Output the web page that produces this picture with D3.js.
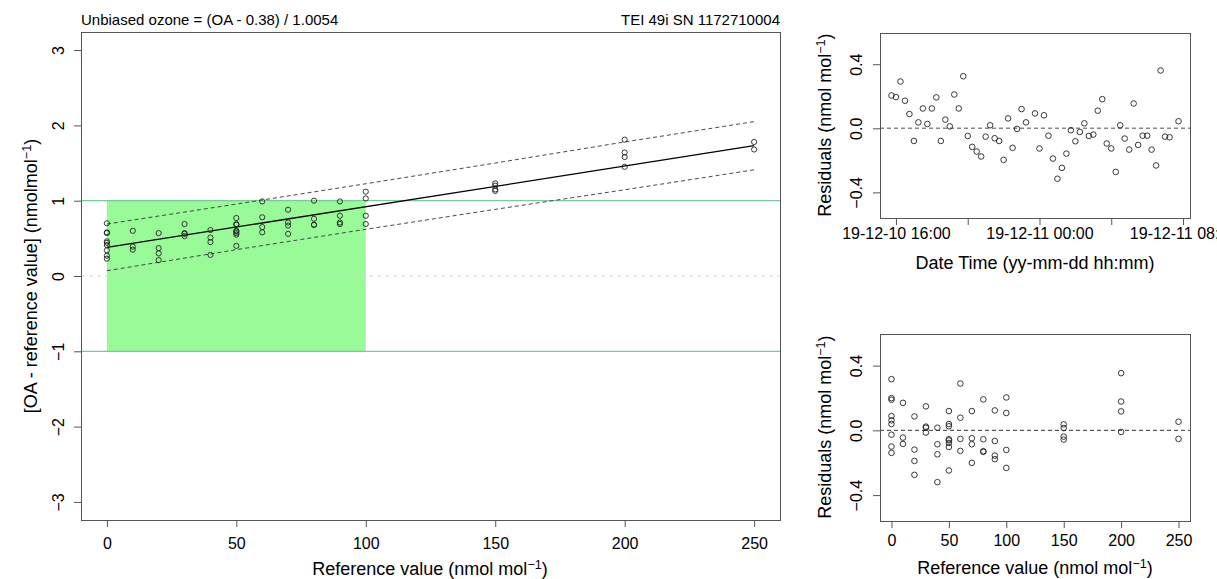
<!DOCTYPE html>
<html>
<head>
<meta charset="utf-8">
<style>
  body { margin: 0; background: #fff; }
  svg { font-family: "Liberation Sans", Arial, sans-serif; }
  .axis .domain { display: none; }
  .axis line { stroke: #555; }
  .axis text { fill: #000; font-size: 16px; }
</style>
</head>
<body>
<svg width="1217" height="579"></svg>
<script src="https://d3js.org/d3.v7.min.js"></script>
<script>

// reference values and [OA - reference] for each calibration point
var refValues = [0, 0, 0, 0, 0, 0, 0, 0, 0, 10, 10, 10, 20, 20, 20, 20, 30, 30, 30, 30,
  40, 40, 40, 40, 50, 50, 50, 50, 50, 50, 50, 50, 60, 60, 60, 60, 70, 70, 70, 70,
  80, 80, 80, 80, 90, 90, 90, 90, 100, 100, 100, 100, 150, 150, 150, 150,
  200, 200, 200, 200, 250, 250];

var diffValues = [0.70, 0.58, 0.57, 0.46, 0.44, 0.41, 0.34, 0.27, 0.23, 0.60, 0.39, 0.35,
  0.57, 0.37, 0.30, 0.21, 0.69, 0.57, 0.56, 0.53, 0.61, 0.51, 0.45, 0.28,
  0.77, 0.69, 0.68, 0.60, 0.59, 0.57, 0.55, 0.40, 0.99, 0.78, 0.65, 0.58,
  0.88, 0.71, 0.67, 0.56, 1.00, 0.76, 0.68, 0.68, 0.99, 0.80, 0.71, 0.69,
  1.12, 1.03, 0.80, 0.69, 1.23, 1.20, 1.15, 1.13, 1.81, 1.64, 1.58, 1.45, 1.78, 1.68];

// residuals, same order as refValues
var residuals = [0.316, 0.199, 0.189, 0.088, 0.062, 0.039, -0.027, -0.100, -0.139,
  0.170, -0.045, -0.084, 0.086, -0.119, -0.189, -0.275, 0.148, 0.023, 0.016, -0.014,
  0.016, -0.086, -0.148, -0.320, 0.119, 0.039, 0.025, -0.055, -0.062, -0.078, -0.103, -0.248,
  0.289, 0.078, -0.053, -0.127, 0.119, -0.049, -0.086, -0.201, 0.191, -0.055, -0.129, -0.133,
  0.123, -0.066, -0.156, -0.178, 0.203, 0.107, -0.121, -0.232, 0.037, 0.014, -0.039, -0.057,
  0.353, 0.178, 0.117, -0.010, 0.053, -0.053];

// regression line and prediction band
var lineRef = [0, 250];
var lineFit = [0.38, 1.73];
var bandRef = [0, 50, 100, 150, 200, 250];
var bandUpper = [0.69, 0.955, 1.225, 1.50, 1.78, 2.05];
var bandLower = [0.07, 0.35, 0.62, 0.885, 1.145, 1.41];

// residuals over time
var times = ["2019-12-10 15:45", "2019-12-10 16:00", "2019-12-10 16:15", "2019-12-10 16:30",
  "2019-12-10 16:45", "2019-12-10 17:00", "2019-12-10 17:15", "2019-12-10 17:30",
  "2019-12-10 17:45", "2019-12-10 18:00", "2019-12-10 18:15", "2019-12-10 18:30",
  "2019-12-10 18:45", "2019-12-10 19:00", "2019-12-10 19:15", "2019-12-10 19:30",
  "2019-12-10 19:45", "2019-12-10 20:00", "2019-12-10 20:15", "2019-12-10 20:30",
  "2019-12-10 20:45", "2019-12-10 21:00", "2019-12-10 21:15", "2019-12-10 21:30",
  "2019-12-10 21:45", "2019-12-10 22:00", "2019-12-10 22:15", "2019-12-10 22:30",
  "2019-12-10 22:45", "2019-12-10 23:00", "2019-12-10 23:15", "2019-12-10 23:45",
  "2019-12-11 00:00", "2019-12-11 00:15", "2019-12-11 00:30", "2019-12-11 00:45",
  "2019-12-11 01:00", "2019-12-11 01:15", "2019-12-11 01:30", "2019-12-11 01:45",
  "2019-12-11 02:00", "2019-12-11 02:15", "2019-12-11 02:30", "2019-12-11 02:45",
  "2019-12-11 03:00", "2019-12-11 03:15", "2019-12-11 03:30", "2019-12-11 03:45",
  "2019-12-11 04:00", "2019-12-11 04:15", "2019-12-11 04:30", "2019-12-11 04:45",
  "2019-12-11 05:00", "2019-12-11 05:15", "2019-12-11 05:30", "2019-12-11 05:45",
  "2019-12-11 06:00", "2019-12-11 06:15", "2019-12-11 06:30", "2019-12-11 06:45",
  "2019-12-11 07:00", "2019-12-11 07:15", "2019-12-11 07:45"];

var timeResiduals = [0.205, 0.195, 0.292, 0.172, 0.089, -0.079, 0.037, 0.124, 0.027, 0.124,
  0.193, -0.079, 0.054, 0.012, 0.211, 0.124, 0.325, -0.048, -0.116, -0.145, -0.176, -0.052,
  0.019, -0.062, -0.079, -0.197, 0.062, -0.122, -0.004, 0.120, 0.037, 0.093, -0.126, 0.081,
  -0.046, -0.189, -0.315, -0.247, -0.158, -0.012, -0.081, -0.023, 0.031, -0.048, -0.039,
  0.110, 0.182, -0.095, -0.126, -0.272, 0.019, -0.064, -0.133, 0.155, -0.104, -0.046,
  -0.046, -0.133, -0.232, 0.361, -0.052, -0.056, 0.044];

var mainYTicks = [-3, -2, -1, 0, 1, 2, 3];
var refTicks = [0, 50, 100, 150, 200, 250];
var residTicks = [-0.4, 0, 0.4];

var svg = d3.select("svg");
var parseTime = d3.timeParse("%Y-%m-%d %H:%M");
var fmtTime = d3.timeFormat("%y-%m-%d %H:%M");

// add a text with a "-1" superscript before the closing bracket
function supLabel(sel, before, after) {
  sel.append("tspan").text(before);
  sel.append("tspan").attr("dy", "-0.5em").attr("font-size", "0.7em").text("\u22121");
  sel.append("tspan").attr("dy", "0.35em").text(after);
}

function drawBox(x0, x1, y0, y1) {
  svg.append("rect")
    .attr("x", x0 + 0.5).attr("y", y0 + 0.5)
    .attr("width", x1 - x0).attr("height", y1 - y0)
    .attr("fill", "none").attr("stroke", "#555");
}

function leftAxis(scale, xPos, ticks, fmt, off) {
  var ax = svg.append("g").attr("class", "axis")
    .attr("transform", "translate(" + xPos + ",0)")
    .call(d3.axisLeft(scale).tickValues(ticks).tickSize(7).tickFormat(fmt));
  ax.selectAll("text")
    .attr("x", 0).attr("y", -off).attr("dy", null)
    .attr("transform", "rotate(-90)")
    .style("text-anchor", "middle");
}

function bottomAxis(scale, yPos, ticks, fmt, off) {
  var ax = svg.append("g").attr("class", "axis")
    .attr("transform", "translate(0," + yPos + ")")
    .call(d3.axisBottom(scale).tickValues(ticks).tickSize(7).tickFormat(fmt));
  ax.selectAll("text").attr("y", off).attr("dy", null);
}

function drawPoints(xs, ys, fx, fy, r) {
  svg.append("g").selectAll("circle")
    .data(xs)
    .enter().append("circle")
    .attr("cx", function(d) { return fx(d); })
    .attr("cy", function(d, i) { return fy(ys[i]); })
    .attr("r", r)
    .attr("fill", "none")
    .attr("stroke", "#222")
    .attr("stroke-width", 0.9);
}

// ---------- main plot ----------
var x = d3.scaleLinear().domain([-10, 260]).range([81, 780]);
var y = d3.scaleLinear().domain([-3.24, 3.24]).range([520, 32]);

svg.append("rect")
  .attr("x", x(0)).attr("y", y(1))
  .attr("width", x(100) - x(0)).attr("height", y(-1) - y(1))
  .attr("fill", "#98fb98");

[1, -1].forEach(function(v) {
  svg.append("line")
    .attr("x1", x(-10)).attr("x2", x(260))
    .attr("y1", y(v)).attr("y2", y(v))
    .attr("stroke", "#7cc8a0").attr("stroke-width", 1.2);
});

svg.append("line")
  .attr("x1", x(-10)).attr("x2", x(260))
  .attr("y1", y(0)).attr("y2", y(0))
  .attr("stroke", "#d8d8d8").attr("stroke-dasharray", "4,4");

var line = d3.line()
  .x(function(d) { return x(d[0]); })
  .y(function(d) { return y(d[1]); });

svg.append("path")
  .attr("d", line(d3.zip(lineRef, lineFit)))
  .attr("fill", "none").attr("stroke", "#000").attr("stroke-width", 1.3);

[bandUpper, bandLower].forEach(function(b) {
  svg.append("path")
    .attr("d", line(d3.zip(bandRef, b)))
    .attr("fill", "none").attr("stroke", "#333")
    .attr("stroke-width", 0.9).attr("stroke-dasharray", "4,3");
});

drawPoints(refValues, diffValues, x, y, 2.6);
drawBox(81, 780, 32, 520);
leftAxis(y, 81, mainYTicks, d3.format("d"), 17.5);
bottomAxis(x, 520, refTicks, d3.format("d"), 29);

svg.append("text").attr("x", 81).attr("y", 25).attr("font-size", 15)
  .text("Unbiased ozone = (OA - 0.38) / 1.0054");
svg.append("text").attr("x", 780).attr("y", 25).attr("font-size", 15)
  .attr("text-anchor", "end")
  .text("TEI 49i SN 1172710004");

svg.append("text")
  .attr("x", 430).attr("y", 575).attr("font-size", 18).attr("text-anchor", "middle")
  .call(supLabel, "Reference value (nmol mol", ")");

svg.append("text")
  .attr("transform", "translate(37," + y(0) + ") rotate(-90)")
  .attr("font-size", 18).attr("text-anchor", "middle")
  .call(supLabel, "[OA - reference value] (nmolmol", ")");

// ---------- residuals vs time ----------
var tDates = times.map(parseTime);
var tExt = d3.extent(tDates);
var tPad = (tExt[1] - tExt[0]) * 0.04;
var xt = d3.scaleTime()
  .domain([new Date(+tExt[0] - tPad), new Date(+tExt[1] + tPad)])
  .range([880, 1190]);
var yt = d3.scaleLinear().domain([-0.56, 0.595]).range([218, 33]);

svg.append("line")
  .attr("x1", 880).attr("x2", 1190)
  .attr("y1", yt(0)).attr("y2", yt(0))
  .attr("stroke", "#888").attr("stroke-width", 1.4).attr("stroke-dasharray", "4,3");

drawPoints(tDates, timeResiduals, xt, yt, 2.8);
drawBox(880, 1190, 33, 218);
leftAxis(yt, 880, residTicks, d3.format(".1f"), 18);
bottomAxis(xt, 218, xt.ticks(d3.timeHour.every(4)), function(d) {
  return d.getHours() % 8 === 0 ? fmtTime(d) : "";
}, 21);

svg.append("text")
  .attr("x", 1035).attr("y", 269).attr("font-size", 18).attr("text-anchor", "middle")
  .text("Date Time (yy-mm-dd hh:mm)");
svg.append("text")
  .attr("transform", "translate(831," + yt(0.02) + ") rotate(-90)")
  .attr("font-size", 18).attr("text-anchor", "middle")
  .call(supLabel, "Residuals (nmol mol", ")");

// ---------- residuals vs reference ----------
var xr = d3.scaleLinear().domain([-10, 260]).range([880, 1190]);
var yr = d3.scaleLinear().domain([-0.56, 0.595]).range([521, 334]);

svg.append("line")
  .attr("x1", 880).attr("x2", 1190)
  .attr("y1", yr(0)).attr("y2", yr(0))
  .attr("stroke", "#333").attr("stroke-width", 1).attr("stroke-dasharray", "4,3");

drawPoints(refValues, residuals, xr, yr, 2.8);
drawBox(880, 1190, 334, 521);
leftAxis(yr, 880, residTicks, d3.format(".1f"), 18);
bottomAxis(xr, 521, refTicks, d3.format("d"), 25);

svg.append("text")
  .attr("x", 1035).attr("y", 574).attr("font-size", 18).attr("text-anchor", "middle")
  .call(supLabel, "Reference value (nmol mol", ")");
svg.append("text")
  .attr("transform", "translate(831," + yr(0.02) + ") rotate(-90)")
  .attr("font-size", 18).attr("text-anchor", "middle")
  .call(supLabel, "Residuals (nmol mol", ")");

</script>
</body>
</html>
